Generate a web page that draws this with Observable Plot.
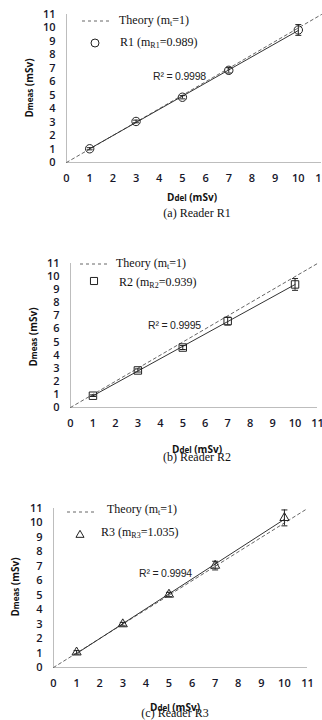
<!DOCTYPE html>
<html>
<head>
<meta charset="utf-8">
<script src="https://cdn.jsdelivr.net/npm/d3@7"></script>
<script src="https://cdn.jsdelivr.net/npm/@observablehq/plot@0.6"></script>
<style>
  html, body { margin: 0; padding: 0; background: #fff; }
  #wrap { position: relative; width: 322px; height: 720px; overflow: hidden; }
  .panel { position: absolute; left: 0; width: 322px; }
  .panel svg { display: block; }
  .ov { position: absolute; white-space: nowrap; line-height: 1; }
  .serif { font-family: "Liberation Serif", "DejaVu Serif", serif; font-size: 12px; color: #111; }
  .serif sub { font-size: 8px; vertical-align: -2px; }
  .title { font-family: "Open Sans", "Liberation Sans", sans-serif; font-weight: 700; font-size: 10px; color: #111; }
  .title .s { font-size: 8px; }
  .r2 { font-family: "Liberation Sans", sans-serif; font-size: 10.5px; color: #222; letter-spacing: -0.2px; }
</style>
</head>
<body>
<div id="wrap"></div>
<script>
// ---- data ----
const doses = [1, 3, 5, 7, 10];                 // delivered dose (mSv)
const r1Values = [1.02, 3.05, 4.85, 6.85, 9.85]; // reader R1 measured
const r1Errors = [0.08, 0.10, 0.12, 0.20, 0.40];
const r2Values = [0.90, 2.83, 4.58, 6.60, 9.40]; // reader R2 measured
const r2Errors = [0.06, 0.12, 0.15, 0.30, 0.45];
const r3Values = [1.05, 3.00, 5.05, 7.05, 10.35]; // reader R3 measured
const r3Errors = [0.12, 0.12, 0.15, 0.30, 0.55];
const theoryX = [0, 11];                          // theory line y = x
const tickValues = [0, 1, 2, 3, 4, 5, 6, 7, 8, 9, 10, 11];
const readers = ["R1", "R2", "R3"];
const slopes = ["0.989", "0.939", "1.035"];
const r2Texts = ["0.9998", "0.9995", "0.9994"];
const captions = ["(a) Reader  R1", "(b) Reader R2", "(c) Reader R3"];
const symbols = ["circle", "square", "triangle"];
const seriesValues = [r1Values, r2Values, r3Values];
const seriesErrors = [r1Errors, r2Errors, r3Errors];

// ---- layout per panel ----
const layout = [
  {top: 0, height: 200, mt: 14, mb: 38, ml: 66, mr: 1, sr: 4.2,
   leg: {l1: 82, l2: 110, ly: 21, tx: 119, ty: 21, mx: 95, my: 43, t2x: 120, t2y: 43},
   r2: [153, 76], yTitle: [29, 88], xTitle: [192, 197], cap: [197, 213]},
  {top: 240, height: 200, mt: 23, mb: 33, ml: 70, mr: 5, sr: 4.2,
   leg: {l1: 80, l2: 108, ly: 24, tx: 116, ty: 24, mx: 94, my: 41, t2x: 119, t2y: 43},
   r2: [148, 85], yTitle: [33, 97], xTitle: [197, 209], cap: [197, 217]},
  {top: 480, height: 210, mt: 28, mb: 23, ml: 53, mr: 15, sr: 3.4,
   leg: {l1: 67, l2: 97, ly: 32, tx: 107, ty: 30, mx: 80, my: 55, t2x: 101, t2y: 53},
   r2: [139, 93], yTitle: [15, 107], xTitle: [175, 227], cap: [175, 233]}
];

const capSymbol = {
  draw(ctx, size) {
    const w = Math.sqrt(size / Math.PI);
    ctx.moveTo(-w, 0); ctx.lineTo(w, 0);
  }
};

const wrap = document.getElementById("wrap");

function ov(parent, html, x, y, cls, anchor) {
  const d = document.createElement("div");
  d.className = "ov " + cls;
  d.innerHTML = html;
  d.style.left = x + "px";
  d.style.top = y + "px";
  d.style.transform = anchor === "middle" ? "translate(-50%,-50%)" : "translate(0,-50%)";
  parent.appendChild(d);
  return d;
}

readers.forEach((name, i) => {
  const L = layout[i];
  const data = doses.map((x, j) => ({x, y: seriesValues[i][j], e: seriesErrors[i][j]}));
  const div = document.createElement("div");
  div.className = "panel";
  div.style.top = L.top + "px";
  div.style.height = L.height + "px";
  wrap.appendChild(div);

  const chart = Plot.plot({
    width: 322,
    height: L.height,
    marginTop: L.mt, marginBottom: L.mb, marginLeft: L.ml, marginRight: L.mr,
    style: {fontFamily: "'Open Sans', 'Liberation Sans', sans-serif", fontSize: "11px", fontWeight: 600, color: "#16162a", background: "transparent"},
    x: {domain: [0, 11], ticks: tickValues, tickSize: 0, tickPadding: 12, label: null, tickFormat: d3.format("d")},
    y: {domain: [0, 11], ticks: tickValues, tickSize: 0, tickPadding: 11, label: null, tickFormat: d3.format("d")},
    marks: [
      Plot.ruleY([0], {stroke: "#bdbdbd", strokeWidth: 1}),
      Plot.ruleX([0], {stroke: "#bdbdbd", strokeWidth: 1}),
      Plot.line(theoryX, {x: d => d, y: d => d, stroke: "#666", strokeWidth: 1, strokeDasharray: "3,3"}),
      Plot.linearRegressionY(data, {x: "x", y: "y", ci: 0, stroke: "#333", strokeWidth: 1}),
      Plot.ruleX(data, {x: "x", y1: d => d.y - d.e, y2: d => d.y + d.e, stroke: "#222", strokeWidth: 1}),
      Plot.dot(data, {x: "x", y: d => d.y - d.e, symbol: capSymbol, r: 3, stroke: "#222", strokeWidth: 1}),
      Plot.dot(data, {x: "x", y: d => d.y + d.e, symbol: capSymbol, r: 3, stroke: "#222", strokeWidth: 1}),
      Plot.dot(data, {x: "x", y: "y", symbol: symbols[i], r: L.sr, stroke: "#222", strokeWidth: 1, fill: "none"})
    ]
  });
  div.appendChild(chart);

  // legend
  const g = L.leg;
  const dash = `<svg width="${g.l2 - g.l1}" height="3" style="display:block"><line x1="0" y1="1.5" x2="${g.l2 - g.l1}" y2="1.5" stroke="#666" stroke-width="1" stroke-dasharray="3,3"/></svg>`;
  ov(div, dash, g.l1, g.ly, "", "left");
  ov(div, "Theory (m<sub>t</sub>=1)", g.tx, g.ty, "serif", "left");
  const symSize = (i === 2 ? 3 : 4) ** 2 * Math.PI;
  const sym = d3.symbol(d3["symbol" + symbols[i][0].toUpperCase() + symbols[i].slice(1)], symSize)();
  ov(div, `<svg width="12" height="12" style="display:block"><path d="${sym}" transform="translate(6,6)" fill="none" stroke="#222"/></svg>`, g.mx, g.my, "", "middle");
  ov(div, `${name} (m<sub>${name}</sub>=${slopes[i]})`, g.t2x, g.t2y, "serif", "left");

  // R² annotation
  ov(div, `R² = ${r2Texts[i]}`, L.r2[0], L.r2[1], "r2", "left");

  // axis titles
  ov(div, `D<span class="s">del</span> (mSv)`, L.xTitle[0], L.xTitle[1], "title", "middle");
  const yt = ov(div, `D<span class="s">meas</span> (mSv)`, L.yTitle[0], L.yTitle[1], "title", "middle");
  yt.style.transform = "translate(-50%,-50%) rotate(-90deg)";

  // caption
  ov(div, captions[i], L.cap[0], L.cap[1], "serif", "middle");
});
</script>
</body>
</html>
